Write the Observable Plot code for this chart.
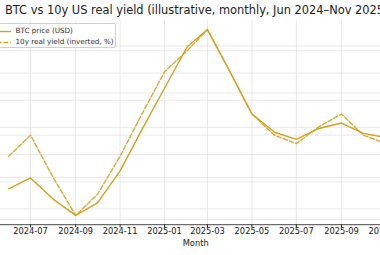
<!DOCTYPE html>
<html>
<head>
<meta charset="utf-8">
<script src="https://cdn.jsdelivr.net/npm/d3@7"></script>
<script src="https://cdn.jsdelivr.net/npm/@observablehq/plot@0.6"></script>
<style>
  html, body { margin: 0; padding: 0; background: white; overflow: hidden; }
  #wrap { position: relative; width: 380px; height: 255px; overflow: hidden; background: white; font-family: "DejaVu Sans", sans-serif; }
  #wrap svg { position: absolute; left: 0; top: 0; max-width: none !important; }
  #title { position: absolute; left: 5px; top: 4.5px; font-size: 11.4px; color: #222; white-space: nowrap; line-height: 1; }
  #xlabel { position: absolute; left: 195.7px; top: 238.5px; transform: translateX(-50%); font-size: 8.3px; color: #222; line-height: 1; white-space: nowrap; }
  #legend { position: absolute; left: -4px; top: 23px; width: 118px; height: 23px; border: 1px solid #d0d0d0; border-radius: 2px; background: rgba(255,255,255,0.85); font-size: 7.2px; color: #333; }
  .entry { position: absolute; left: 0; white-space: nowrap; line-height: 1; }
  .entry svg { position: absolute !important; left: 0; top: 0; }
  .entry span { position: absolute; left: 18.5px; top: 0; }
</style>
</head>
<body>
<div id="wrap">
  <div id="chart"></div>
  <div id="title">BTC vs 10y US real yield (illustrative, monthly, Jun 2024–Nov 2025)</div>
  <div id="legend"></div>
  <div id="xlabel">Month</div>
</div>
<script>
// ---- data ----
const months = ["2024-06","2024-07","2024-08","2024-09","2024-10","2024-11","2024-12",
                "2025-01","2025-02","2025-03","2025-04","2025-05","2025-06","2025-07",
                "2025-08","2025-09","2025-10","2025-11"];
const btcPrice = [63700, 65700, 61800, 58800, 61100, 67000, 74600,
                  82200, 89800, 93000, 85200, 77500, 74100, 72800,
                  74800, 75800, 73900, 73100];
const realYield = [2.05, 2.00, 2.10, 2.19, 2.14, 2.05, 1.95,
                   1.85, 1.80, 1.75, 1.85, 1.95, 2.00, 2.02,
                   1.98, 1.95, 2.00, 2.02];
const tickLabels = ["2024-07","2024-09","2024-11","2025-01","2025-03","2025-05","2025-07","2025-09","2025-11"];
const seriesNames = ["BTC price (USD)", "10y real yield (inverted, %)"];
const btcStep = 5000;
const yieldStep = 0.1;

// ---- derived ----
const parse = d3.utcParse("%Y-%m");
const data = months.map((m, i) => ({date: parse(m), btc: btcPrice[i], yld: realYield[i]}));
const tickDates = tickLabels.map(parse);

function padded(ext) { const s = ext[1] - ext[0]; return [ext[0] - 0.05 * s, ext[1] + 0.05 * s]; }
const btcDomain = padded(d3.extent(btcPrice));
const yldDomain = padded(d3.extent(realYield));
// inverted secondary axis: high yield at bottom
const toBtc = d3.scaleLinear().domain([yldDomain[1], yldDomain[0]]).range(btcDomain);

const btcTicks = d3.range(Math.ceil(btcDomain[0] / btcStep) * btcStep, btcDomain[1], btcStep);
const yldTicks = d3.range(Math.ceil(yldDomain[0] / yieldStep - 1e-9), yldDomain[1] / yieldStep, 1).map(k => k * yieldStep);

const DAY = 864e5;
const xDomain = [new Date(Date.UTC(2024, 6, 1) - 41.2 * DAY), new Date(Date.UTC(2025, 8, 1) + 108.5 * DAY)];

const gold = "#D6A21F";
const gridColor = "#e4e4e4";

const chart = Plot.plot({
  width: 420,
  height: 255,
  marginTop: 19.8,
  marginBottom: 30.8,
  marginLeft: 0,
  marginRight: 0,
  style: {fontFamily: "DejaVu Sans", fontSize: "8.3px", color: "#222", background: "white", maxWidth: "none"},
  x: {type: "utc", domain: xDomain, ticks: tickDates, tickFormat: d3.utcFormat("%Y-%m"), tickSize: 3, tickPadding: 0.5, label: null},
  y: {domain: btcDomain, axis: null},
  marks: [
    Plot.ruleX(tickDates, {stroke: gridColor, strokeWidth: 0.8}),
    Plot.ruleY(btcTicks, {stroke: gridColor, strokeWidth: 0.8}),
    Plot.ruleY(yldTicks.map(v => toBtc(v)), {stroke: gridColor, strokeWidth: 0.8}),
    Plot.ruleY([btcDomain[0]], {stroke: "#333", strokeWidth: 0.9}),
    Plot.line(data, {x: "date", y: "btc", stroke: gold, strokeWidth: 1.4}),
    Plot.line(data, {x: "date", y: d => toBtc(d.yld), stroke: gold, strokeWidth: 1.4, strokeDasharray: "4.6,2", strokeOpacity: 0.9})
  ]
});
chart.style.maxWidth = "none";
document.getElementById("chart").appendChild(chart);

// legend
const legend = document.getElementById("legend");
seriesNames.forEach((name, i) => {
  const e = document.createElement("div");
  e.className = "entry";
  e.style.top = (i === 0 ? 3 : 14) + "px";
  e.style.width = "118px";
  e.style.height = "9px";
  e.innerHTML = `<svg width="18" height="9"><line x1="0" x2="14" y1="4.5" y2="4.5" stroke="${gold}" stroke-width="1.4" ${i === 1 ? 'stroke-dasharray="4.6,2"' : ''}/></svg><span>${name}</span>`;
  legend.appendChild(e);
});
</script>
</body>
</html>
